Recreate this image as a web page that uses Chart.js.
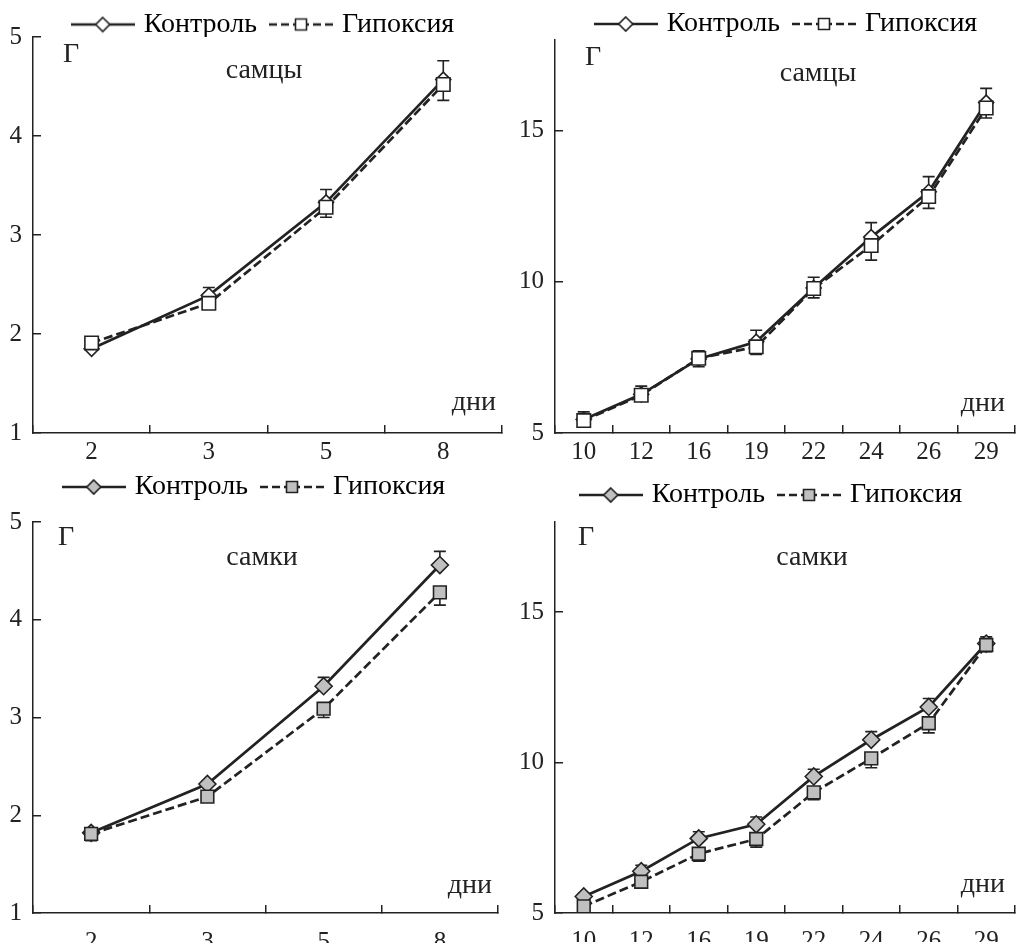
<!DOCTYPE html>
<html>
<head>
<meta charset="utf-8">
<script src="https://cdn.jsdelivr.net/npm/chart.js@4/dist/chart.umd.min.js"></script>
<style>
  body { margin: 0; background: #fff; }
  #wrap { position: relative; width: 1026px; height: 947px; }
  canvas { position: absolute; }
</style>
</head>
<body>
<div id="wrap">
  <canvas id="malesEarly" width="513" height="470" style="left:0;top:0"></canvas>
  <canvas id="malesLate" width="513" height="470" style="left:513px;top:0"></canvas>
  <canvas id="femalesEarly" width="513" height="477" style="left:0;top:470px"></canvas>
  <canvas id="femalesLate" width="513" height="477" style="left:513px;top:470px"></canvas>
</div>
<script>
const daysEarly = ['2', '3', '5', '8'];
const daysLate = ['10', '12', '16', '19', '22', '24', '26', '29'];
const ticksEarly = [1, 2, 3, 4, 5];
const ticksLate = [5, 10, 15];
const seriesNames = ['Контроль', 'Гипоксия'];

// самцы, г
const maleEarlyControl = [1.85, 2.39, 3.33, 4.57];
const maleEarlyControlErr = [0.03, 0.08, 0.13, 0.19];
const maleEarlyHypoxia = [1.91, 2.31, 3.28, 4.52];
const maleEarlyHypoxiaErr = [0.02, 0.03, 0.10, 0.16];
const maleLateControl = [5.45, 6.28, 7.45, 8.02, 9.80, 11.48, 12.98, 15.93];
const maleLateControlErr = [0.25, 0.27, 0.27, 0.38, 0.35, 0.48, 0.50, 0.47];
const maleLateHypoxia = [5.41, 6.25, 7.47, 7.85, 9.78, 11.20, 12.82, 15.75];
const maleLateHypoxiaErr = [0.10, 0.12, 0.28, 0.25, 0.31, 0.48, 0.39, 0.33];

// самки, г
const femaleEarlyControl = [1.82, 2.32, 3.32, 4.56];
const femaleEarlyControlErr = [0.02, 0.03, 0.09, 0.14];
const femaleEarlyHypoxia = [1.81, 2.19, 3.09, 4.28];
const femaleEarlyHypoxiaErr = [0.07, 0.04, 0.09, 0.13];
const femaleLateControl = [5.55, 6.39, 7.48, 7.95, 9.54, 10.76, 11.85, 13.96];
const femaleLateControlErr = [0.10, 0.20, 0.22, 0.24, 0.24, 0.27, 0.28, 0.22];
const femaleLateHypoxia = [5.22, 6.04, 6.97, 7.46, 9.01, 10.14, 11.31, 13.91];
const femaleLateHypoxiaErr = [0.10, 0.15, 0.25, 0.27, 0.24, 0.31, 0.32, 0.22];

const ink = '#222';
const serif = "'Liberation Serif', 'DejaVu Serif', serif";
Chart.defaults.font.family = serif;
Chart.defaults.color = ink;

// line + marker picture for the legend
function legendIcon(dashed, shape, fill) {
    const c = document.createElement('canvas');
    c.width = 64;
    c.height = 18;
    const ctx = c.getContext('2d');
    ctx.strokeStyle = ink;
    ctx.lineWidth = 2.7;
    if (dashed) {
        ctx.setLineDash([8, 4]);
        ctx.beginPath(); ctx.moveTo(0, 9); ctx.lineTo(27, 9); ctx.stroke();
        ctx.beginPath(); ctx.moveTo(64, 9); ctx.lineTo(37, 9); ctx.stroke();
        ctx.setLineDash([]);
    } else {
        ctx.beginPath(); ctx.moveTo(0, 9); ctx.lineTo(64, 9); ctx.stroke();
    }
    ctx.lineWidth = 1.6;
    ctx.fillStyle = fill;
    ctx.beginPath();
    if (shape === 'diamond') {
        ctx.moveTo(32, 2); ctx.lineTo(39, 9); ctx.lineTo(32, 16); ctx.lineTo(25, 9); ctx.closePath();
    } else {
        ctx.rect(26.5, 3.5, 11, 11);
    }
    ctx.fill();
    ctx.stroke();
    return c;
}

const errorBars = {
    id: 'errorBars',
    beforeDatasetsDraw(chart) {
        const ctx = chart.ctx;
        const y = chart.scales.y;
        ctx.save();
        ctx.strokeStyle = ink;
        ctx.lineWidth = 1.6;
        chart.data.datasets.forEach((ds, i) => {
            chart.getDatasetMeta(i).data.forEach((pt, j) => {
                const end = y.getPixelForValue(ds.data[j] + ds.errDir * ds.err[j]);
                ctx.beginPath();
                ctx.moveTo(pt.x, pt.y);
                ctx.lineTo(pt.x, end);
                ctx.moveTo(pt.x - 6, end);
                ctx.lineTo(pt.x + 6, end);
                ctx.stroke();
            });
        });
        ctx.restore();
    }
};

const panelText = {
    id: 'panelText',
    afterDraw(chart, args, opts) {
        const ctx = chart.ctx;
        const a = chart.chartArea;
        ctx.save();
        ctx.fillStyle = ink;
        ctx.font = '28px ' + serif;
        ctx.textBaseline = 'alphabetic';
        ctx.textAlign = 'left';
        ctx.fillText('Г', a.left + opts.g[0], a.top + opts.g[1]);
        ctx.textAlign = 'center';
        ctx.fillText(opts.title, a.left + opts.t[0], a.top + opts.t[1]);
        ctx.textAlign = 'right';
        ctx.fillText('дни', a.right + opts.d[0], a.bottom + opts.d[1]);
        ctx.restore();
    }
};

// fixed legend height, and the legend row nudged a little
const legendBox = {
    id: 'legendBox',
    beforeInit(chart, args, opts) {
        const legend = chart.legend;
        const fit = legend.fit;
        legend.fit = function () {
            fit.call(this);
            this.height = opts.height;
        };
    },
    afterLayout(chart, args, opts) {
        const legend = chart.legend;
        legend.left += opts.dx;
        legend.right += opts.dx;
        legend.top += opts.dy;
    }
};

function createPanel(id, cfg) {
    const icons = [legendIcon(false, 'diamond', cfg.fill), legendIcon(true, 'square', cfg.fill)];
    const tickFont = {family: serif, size: 25};

    return new Chart(document.getElementById(id), {
        type: 'line',
        data: {
            labels: cfg.days,
            datasets: [{
                label: seriesNames[0],
                data: cfg.control,
                err: cfg.controlErr,
                errDir: 1,
                borderColor: ink,
                borderWidth: 2.7,
                pointStyle: 'rectRot',
                pointRadius: cfg.diamondR,
                pointBackgroundColor: cfg.fill,
                pointBorderColor: ink,
                pointBorderWidth: 1.6,
                order: 2
            }, {
                label: seriesNames[1],
                data: cfg.hypoxia,
                err: cfg.hypoxiaErr,
                errDir: -1,
                borderColor: ink,
                borderWidth: 2.7,
                borderDash: [9, 4],
                pointStyle: 'rect',
                pointRadius: cfg.squareR,
                pointBackgroundColor: cfg.fill,
                pointBorderColor: ink,
                pointBorderWidth: 1.6,
                order: 1
            }]
        },
        options: {
            responsive: false,
            animation: false,
            layout: {padding: {top: 0, left: 0, bottom: 0, right: cfg.padRight}},
            plugins: {
                tooltip: {enabled: false},
                legend: {
                    position: 'top',
                    labels: {
                        usePointStyle: true,
                        pointStyleWidth: 54,
                        padding: 17,
                        color: ink,
                        font: {family: serif, size: 28},
                        generateLabels: () => seriesNames.map((name, i) => ({
                            text: name,
                            pointStyle: icons[i],
                            fillStyle: cfg.fill,
                            strokeStyle: ink,
                            lineWidth: 0,
                            hidden: false,
                            datasetIndex: i
                        }))
                    }
                },
                legendBox: cfg.legend,
                panelText: cfg.text
            },
            scales: {
                x: {
                    offset: true,
                    grid: {offset: true, drawOnChartArea: false, color: ink, lineWidth: 1.5, tickLength: -8},
                    border: {color: ink, width: 1.5},
                    ticks: {color: ink, font: tickFont, padding: cfg.xPad, maxRotation: 0, autoSkip: false},
                    afterFit: s => { s.height = cfg.xHeight; }
                },
                y: {
                    min: cfg.yMin,
                    max: cfg.yMax,
                    afterBuildTicks: s => { s.ticks = cfg.yTicks.map(v => ({value: v})); },
                    grid: {drawOnChartArea: false, color: ink, lineWidth: 1.5, tickLength: -8},
                    border: {color: ink, width: 1.5},
                    ticks: {color: ink, font: tickFont, padding: 19},
                    afterFit: s => { s.width = cfg.yWidth; }
                }
            }
        },
        plugins: [legendBox, errorBars, panelText]
    });
}

createPanel('malesEarly', {
    days: daysEarly, yTicks: ticksEarly, yMin: 1, yMax: 5,
    control: maleEarlyControl, controlErr: maleEarlyControlErr,
    hypoxia: maleEarlyHypoxia, hypoxiaErr: maleEarlyHypoxiaErr,
    fill: '#fff', diamondR: 7.5, squareR: 9.5,
    padRight: 5, yWidth: 33, xHeight: 37, xPad: 12,
    legend: {height: 37, dx: 11, dy: -6.5},
    text: {title: 'самцы', g: [30, 25], t: [231, 41], d: [-6, -23]}
});

createPanel('malesLate', {
    days: daysLate, yTicks: ticksLate, yMin: 5, yMax: 18,
    control: maleLateControl, controlErr: maleLateControlErr,
    hypoxia: maleLateHypoxia, hypoxiaErr: maleLateHypoxiaErr,
    fill: '#fff', diamondR: 7.5, squareR: 9.5,
    padRight: 1, yWidth: 42, xHeight: 37, xPad: 12,
    legend: {height: 40, dx: 19, dy: -7},
    text: {title: 'самцы', g: [30, 25], t: [263, 41], d: [-10, -22]}
});

createPanel('femalesEarly', {
    days: daysEarly, yTicks: ticksEarly, yMin: 1, yMax: 5,
    control: femaleEarlyControl, controlErr: femaleEarlyControlErr,
    hypoxia: femaleEarlyHypoxia, hypoxiaErr: femaleEarlyHypoxiaErr,
    fill: '#c0c0c0', diamondR: 8.5, squareR: 9,
    padRight: 15, yWidth: 33, xHeight: 30, xPad: 22,
    legend: {height: 52, dx: 7, dy: -14},
    text: {title: 'самки', g: [25, 23], t: [229, 43], d: [-6, -20]}
});

createPanel('femalesLate', {
    days: daysLate, yTicks: ticksLate, yMin: 5, yMax: 18,
    control: femaleLateControl, controlErr: femaleLateControlErr,
    hypoxia: femaleLateHypoxia, hypoxiaErr: femaleLateHypoxiaErr,
    fill: '#c0c0c0', diamondR: 8.5, squareR: 9,
    padRight: 11, yWidth: 42, xHeight: 29, xPad: 21,
    legend: {height: 52, dx: 9, dy: -6},
    text: {title: 'самки', g: [23, 23], t: [257, 43], d: [-10, -21]}
});
</script>
</body>
</html>
